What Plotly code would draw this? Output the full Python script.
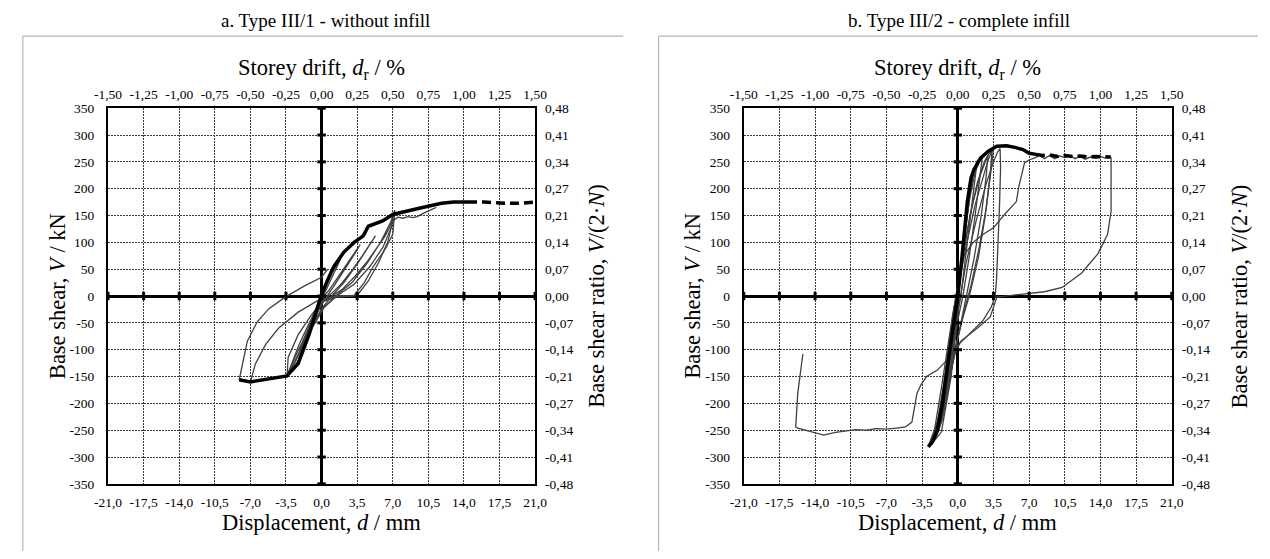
import plotly.graph_objects as go

# ---------------- axis ticks ----------------
disp_ticks = [-21, -17.5, -14, -10.5, -7, -3.5, 0, 3.5, 7, 10.5, 14, 17.5, 21]
disp_labels = ["-21,0", "-17,5", "-14,0", "-10,5", "-7,0", "-3,5", "0,0", "3,5", "7,0",
               "10,5", "14,0", "17,5", "21,0"]
drift_ticks = [-1.5, -1.25, -1.0, -0.75, -0.5, -0.25, 0, 0.25, 0.5, 0.75, 1.0, 1.25, 1.5]
drift_labels = ["-1,50", "-1,25", "-1,00", "-0,75", "-0,50", "-0,25", "0,00", "0,25", "0,50",
                "0,75", "1,00", "1,25", "1,50"]
shear_ticks = [-350, -300, -250, -200, -150, -100, -50, 0, 50, 100, 150, 200, 250, 300, 350]
shear_labels = ["-350", "-300", "-250", "-200", "-150", "-100", "-50", "0", "50", "100",
                "150", "200", "250", "300", "350"]
ratio_labels = ["-0,48", "-0,41", "-0,34", "-0,27", "-0,21", "-0,14", "-0,07", "0,00",
                "0,07", "0,14", "0,21", "0,27", "0,34", "0,41", "0,48"]
RATIO_MAX = 0.48
SHEAR_MAX = 350

# ---------------- panel a: Type III/1 - without infill ----------------
a_c1_d = [0, 0.5, 1.0, 1.6, 2.0, 1.7, 1.1, 0.5, 0, -0.6, -1.2, -1.8, -2.2, -1.8, -1.1, -0.5, 0]
a_c1_v = [0, 22, 42, 62, 75, 62, 38, 12, -8, -30, -55, -82, -100, -84, -52, -25, -5]
a_c2_d = [0, 0.7, 1.5, 2.4, 3.2, 3.8, 3.3, 2.3, 1.2, 0.4, -0.4, -1.2, -2.0, -2.6, -2.3, -1.5, -0.7, 0]
a_c2_v = [-5, 10, 32, 58, 80, 96, 80, 50, 18, -4, -30, -62, -96, -122, -110, -75, -38, -10]
a_c3_d = [0, 1.0, 2.0, 3.0, 4.0, 4.8, 5.3, 4.8, 3.6, 2.2, 1.0, 0, -1.0, -2.0, -2.8, -3.4, -2.9, -2.2, -1.2, -0.3]
a_c3_v = [-10, 5, 24, 48, 75, 98, 112, 96, 62, 25, 0, -24, -60, -100, -130, -149, -125, -90, -50, -15]
a_c4_d = [-0.3, 0.8, 2.0, 3.2, 4.4, 5.4, 6.2, 6.8, 7.1, 7.2, 6.8, 5.8, 4.5, 3.0, 1.5, 0.3, -0.8, -2.0,
          -3.0, -3.4, -3.28, -2.3, -1.03, 0, 1.5]
a_c4_v = [-15, -3, 12, 35, 62, 88, 110, 132, 150, 160, 138, 100, 62, 25, 2, -20, -55, -100,
          -135, -150, -114, -72, -36, -11, -2]
a_c5_d = [1.5, 3.15, 4.2, 5.08, 6.0, 6.36, 7.0, 7.1, 7.2, 6.84, 6.04, 4.75, 3.2, 1.5, 0, -1.2, -2.4,
          -3.4, -5.0, -7.0, -6.5, -5.5, -4.24, -2.3, -0.39, 1.54, 3.47]
a_c5_v = [-2, 0, 25, 55, 80, 91, 115, 140, 158, 127, 91, 55, 22, 0, -25, -62, -105,
          -149, -155, -160, -126, -90, -60, -30, -8.5, 0.5, 0.5]
a_c6_d = [3.47, 4.6, 5.6, 6.5, 7.0, 7.5, 8.0, 8.5, 9.0, 9.4, 10.0, 10.5, 11.0, 11.3]
a_c6_v = [0.5, 28, 62, 100, 140, 147, 145, 148, 146, 148, 154, 159, 163, 165]
a_c7_d = [0.3, -1.2, -2.3, -3.4, -7.0, -8.1, -7.3, -6.33, -5.2, -3.59, -1.67, 0, 0.6]
a_c7_v = [0, -65, -120, -150, -160, -156, -84, -48, -24, -2, 19, 35, 50]
a_env_d = [-8.1, -7.0, -3.4, -2.3, -1.2, -0.06, 0.6, 1.2, 2.2, 3.2, 4.1, 4.6, 6.0, 7.0, 9.5, 11.8, 13.0, 14.4]
a_env_v = [-156, -160, -149, -126, -70, 0, 30, 55, 82, 100, 112, 130, 140, 152, 163, 173, 175, 175]
a_ext_d = [14.4, 16.0, 18.0, 19.5, 21.0]
a_ext_v = [175, 175, 173, 173, 175]

# ---------------- panel b: Type III/2 - complete infill ----------------
b_c1_d = [0, 0.4, 0.8, 1.2, 1.6, 1.9, 1.7, 1.2, 0.7, 0.3, -0.2, -0.7, -1.2, -1.7, -2.1, -1.8, -1.3, -0.8, -0.3]
b_c1_v = [0, 60, 130, 190, 235, 252, 220, 140, 60, 0, -50, -120, -190, -240, -262, -225, -160, -85, -15]
b_c2_d = [-0.3, 0.2, 0.7, 1.2, 1.7, 2.1, 2.4, 2.2, 1.7, 1.1, 0.5, 0, -0.6, -1.3, -1.9, -2.4, -2.0, -1.4, -0.9, -0.4]
b_c2_v = [-15, 45, 120, 185, 230, 250, 258, 225, 150, 70, 0, -45, -120, -200, -250, -272, -235, -165, -95, -25]
b_c3_d = [-0.4, 0.2, 0.8, 1.5, 2.2, 2.7, 2.95, 2.8, 2.3, 1.6, 0.9, 0.3, -0.5, -1.3, -2.0, -2.6, -2.2, -1.6, -1.0, -0.5]
b_c3_v = [-25, 40, 110, 175, 225, 250, 262, 225, 150, 70, 5, -45, -125, -205, -255, -277, -240, -170, -100, -35]
b_c4_d = [-0.5, 0.1, 0.9, 1.7, 2.5, 3.0, 3.35, 3.2, 2.7, 2.0, 1.2, 0.5, -0.4, -1.3, -2.1, -2.7, -2.9,
          -2.6, -1.6, -0.65, -0.17, 0.1]
b_c4_v = [-35, 25, 100, 170, 225, 255, 270, 230, 150, 70, 5, -40, -110, -190, -240, -268, -280,
          -277, -253, -150, -72, -20]
b_c5_d = [0.1, 0.8, 1.8, 2.8, 3.5, 3.9, 4.15, 4.2, 4.1, 3.95, 3.8, 3.67, 3.3, 2.5, 1.2, 0.2, -0.3,
          -1.0, -1.8, -2.5, -2.8, -2.4, -1.5, -0.7, -0.2, 0.1, 0.31]
b_c5_v = [-20, 60, 140, 210, 250, 268, 275, 240, 170, 90, 30, 0, -20, -45, -70, -88, -110,
          -170, -230, -268, -278, -270, -230, -150, -60, 10, 67]
b_c6_d = [0.31, 1.5, 2.5, 3.5, 4.5, 5.4, 5.75, 6.0, 6.23, 6.55, 7.03, 7.5, 8.0, 8.5, 9.0, 9.5, 10.0,
          10.5, 11.0, 11.5, 12.0, 12.5, 13.0, 13.5, 14.0, 14.5, 15.0, 15.04, 15.04, 15.04, 14.7,
          13.76, 12.16, 10.24, 8.5, 6.39, 3.83, 3.19, 1.9, 0.31, -0.17, -1.0, -2.0, -3.06, -3.6,
          -4.0, -4.5, -5.14, -6.0, -7.0, -8.0, -9.0, -10.0, -11.0, -12.0, -13.15, -14.0, -15.0,
          -15.7, -15.9, -15.8, -15.7, -15.2]
b_c6_v = [67, 100, 115, 127, 150, 170, 176, 205, 224, 248, 254, 257, 262, 256, 262, 256, 261,
          258, 262, 256, 260, 255, 259, 257, 260, 257, 259, 257, 210, 158, 115,
          79, 43, 16, 8, 4, -2, -39, -60, -84, -96, -118, -138, -150, -165,
          -181, -235, -244, -246, -248, -247, -250, -249, -252, -254, -259, -255, -250,
          -246, -244, -200, -181, -108]
b_c7_d = [-0.2, 0.5, 1.2, 1.9, 2.6, 3.1, 3.5, 3.3, 2.8, 2.1, 1.3, 0.6, -0.2, -1.0, -1.8, -2.4,
          -2.8, -2.5, -1.9, -1.1, -0.5, 0]
b_c7_v = [-10, 70, 150, 210, 250, 266, 272, 240, 165, 90, 20, -30, -95, -170, -235, -268,
          -279, -272, -245, -165, -85, -10]
b_c8_d = [-0.1, -0.6, -1.2, -1.8, -2.3, -2.7, -2.4, -1.7, -1.1, -0.6, -0.2]
b_c8_v = [-5, -80, -160, -225, -262, -276, -262, -215, -140, -70, -10]
b_c9_d = [0, -0.8, -1.5, -2.1, -2.6, -2.2, -1.4, -0.8, -0.3, 0.1]
b_c9_v = [-15, -110, -195, -245, -270, -255, -190, -115, -40, 10]
b_env_d = [-2.9, -2.5, -2.0, -1.5, -1.0, -0.5, 0, 0.4, 0.94, 1.3, 1.59, 2.23, 3.0, 3.83, 4.79, 5.6,
           6.39, 7.0, 7.67]
b_env_v = [-281, -272, -250, -200, -130, -60, 0, 70, 176, 220, 236, 257, 270, 279, 280, 277,
           273, 266, 264]
b_ext_d = [7.67, 8.3, 9.0, 9.8, 10.5, 11.3, 12.0, 12.8, 13.5, 14.3, 15.0]
b_ext_v = [264, 262, 263, 260, 262, 260, 261, 259, 260, 259, 259]

a_cycles = [(a_c1_d, a_c1_v), (a_c2_d, a_c2_v), (a_c3_d, a_c3_v), (a_c4_d, a_c4_v),
            (a_c5_d, a_c5_v), (a_c6_d, a_c6_v), (a_c7_d, a_c7_v)]
b_cycles = [(b_c1_d, b_c1_v), (b_c2_d, b_c2_v), (b_c3_d, b_c3_v), (b_c4_d, b_c4_v),
            (b_c7_d, b_c7_v), (b_c8_d, b_c8_v), (b_c9_d, b_c9_v), (b_c5_d, b_c5_v),
            (b_c6_d, b_c6_v)]

# ---------------- figure ----------------
W, H = 1270, 559
FONT = "'Liberation Serif', 'Times New Roman', Times, serif"
THIN = "#404040"
TICK_SIZE = 13.5
AXT_SIZE = 22.5
TITLE_SIZE = 19

fig = go.Figure()


def px(x):
    return x / W


def py(y):
    return 1 - y / H


panels = [
    dict(xa="x", ya="y", xt="x2", yt="y2", cycles=a_cycles, env=(a_env_d, a_env_v),
         ext=(a_ext_d, a_ext_v), dom=(96, 532)),
    dict(xa="x3", ya="y3", xt="x4", yt="y4", cycles=b_cycles, env=(b_env_d, b_env_v),
         ext=(b_ext_d, b_ext_v), dom=(745, 1182)),
]

for p in panels:
    for d, v in p["cycles"]:
        fig.add_trace(go.Scatter(x=d, y=v, mode="lines", xaxis=p["xa"], yaxis=p["ya"],
                                 line=dict(color=THIN, width=1.3), hoverinfo="skip",
                                 showlegend=False))
    fig.add_trace(go.Scatter(x=p["env"][0], y=p["env"][1], mode="lines", xaxis=p["xa"],
                             yaxis=p["ya"], line=dict(color="black", width=3.5),
                             hoverinfo="skip", showlegend=False))
    fig.add_trace(go.Scatter(x=p["ext"][0], y=p["ext"][1], mode="lines", xaxis=p["xa"],
                             yaxis=p["ya"], line=dict(color="black", width=3.5, dash="9px,5px"),
                             hoverinfo="skip", showlegend=False))
    # tick marks on the zero axes
    fig.add_trace(go.Scatter(x=disp_ticks, y=[0] * len(disp_ticks), mode="markers",
                             xaxis=p["xa"], yaxis=p["ya"], cliponaxis=False,
                             marker=dict(symbol="line-ns", size=6, line=dict(width=3, color="black")),
                             hoverinfo="skip", showlegend=False))
    fig.add_trace(go.Scatter(x=[0] * len(shear_ticks), y=shear_ticks, mode="markers",
                             xaxis=p["xa"], yaxis=p["ya"], cliponaxis=False,
                             marker=dict(symbol="line-ew", size=6, line=dict(width=3, color="black")),
                             hoverinfo="skip", showlegend=False))
    # empty trace to attach secondary axes
    fig.add_trace(go.Scatter(x=[None], y=[None], xaxis=p["xt"], yaxis=p["yt"],
                             hoverinfo="skip", showlegend=False))

ydom = [py(490), py(104)]
tickfont = dict(family=FONT, size=TICK_SIZE, color="black")
grid = dict(showgrid=True, gridcolor="#3a3a3a", gridwidth=1, griddash="2px,1px")

layout = dict(
    width=W, height=H, margin=dict(l=0, r=0, t=0, b=0), autosize=False,
    paper_bgcolor="white", plot_bgcolor="white", showlegend=False,
    font=dict(family=FONT, color="black"),
)
for i, p in enumerate(panels):
    n = 2 * i
    xb = "xaxis" if n == 0 else f"xaxis{n + 1}"
    xt = f"xaxis{n + 2}"
    yb = "yaxis" if n == 0 else f"yaxis{n + 1}"
    yt = f"yaxis{n + 2}"
    xdom = [px(p["dom"][0]), px(p["dom"][1])]
    layout[xb] = dict(domain=xdom, range=[-21, 21], tickvals=disp_ticks, ticktext=disp_labels,
                      anchor=p["ya"], side="bottom", showline=True, linewidth=2, linecolor="black",
                      mirror=True, zeroline=True, zerolinewidth=3, zerolinecolor="black",
                      ticks="", tickfont=tickfont, ticklabelstandoff=5, fixedrange=True, **grid)
    layout[xt] = dict(range=[-1.5, 1.5], tickvals=drift_ticks, ticktext=drift_labels,
                      overlaying=p["xa"], anchor=p["ya"], side="top", showgrid=False,
                      zeroline=False, showline=False, ticks="", tickfont=tickfont,
                      ticklabelstandoff=6, fixedrange=True)
    layout[yb] = dict(domain=ydom, range=[-SHEAR_MAX, SHEAR_MAX], tickvals=shear_ticks,
                      ticktext=shear_labels, anchor=p["xa"], side="left", showline=True,
                      linewidth=2, linecolor="black", mirror=True, zeroline=True,
                      zerolinewidth=3, zerolinecolor="black", ticks="", tickfont=tickfont,
                      ticklabelstandoff=9, fixedrange=True, **grid)
    layout[yt] = dict(range=[-RATIO_MAX, RATIO_MAX],
                      tickvals=[v / SHEAR_MAX * RATIO_MAX for v in shear_ticks],
                      ticktext=ratio_labels, overlaying=p["ya"], anchor=p["xa"], side="right",
                      showgrid=False, zeroline=False, showline=False, ticks="",
                      tickfont=tickfont, ticklabelstandoff=9, fixedrange=True)

fig.update_layout(**layout)

ann = []
titles = [("a. Type III/1 - without infill", 318), ("b. Type III/2 - complete infill", 965)]
for t, x in titles:
    ann.append(dict(text=t, x=px(x), y=py(14), xref="paper", yref="paper", showarrow=False,
                    font=dict(family=FONT, size=TITLE_SIZE, color="black"), xanchor="center",
                    yanchor="middle"))
centers = [(314, 44, 594), (963, 692, 1251)]
for cx, lx, rx in centers:
    ann.append(dict(text="Storey drift, <i>d</i><sub>r</sub> / %", x=px(cx), y=py(64),
                    xref="paper", yref="paper", showarrow=False,
                    font=dict(family=FONT, size=AXT_SIZE, color="black"), xanchor="center",
                    yanchor="middle"))
    ann.append(dict(text="Displacement, <i>d</i> / mm", x=px(cx), y=py(530), xref="paper",
                    yref="paper", showarrow=False,
                    font=dict(family=FONT, size=AXT_SIZE, color="black"),
                    xanchor="center", yanchor="middle"))
    ann.append(dict(text="Base shear, <i>V</i> / kN", x=px(lx), y=py(297), xref="paper",
                    yref="paper", showarrow=False, textangle=-90,
                    font=dict(family=FONT, size=AXT_SIZE, color="black"), xanchor="center",
                    yanchor="middle"))
    ann.append(dict(text="Base shear ratio, <i>V</i>/(2·<i>N</i>)", x=px(rx), y=py(297),
                    xref="paper", yref="paper", showarrow=False, textangle=-90,
                    font=dict(family=FONT, size=AXT_SIZE, color="black"), xanchor="center",
                    yanchor="middle"))
fig.update_layout(annotations=ann)

# panel frames (top and left edges)
shapes = []
for x0, x1 in [(9, 622), (658, 1270)]:
    shapes.append(dict(type="line", xref="paper", yref="paper", x0=px(x0), x1=px(x1),
                       y0=py(30), y1=py(30), line=dict(color="#b5b5b5", width=1.2)))
    shapes.append(dict(type="line", xref="paper", yref="paper", x0=px(x0), x1=px(x0),
                       y0=py(30), y1=0, line=dict(color="#b5b5b5", width=1.2)))
fig.update_layout(shapes=shapes)

fig.write_html("out.html")
